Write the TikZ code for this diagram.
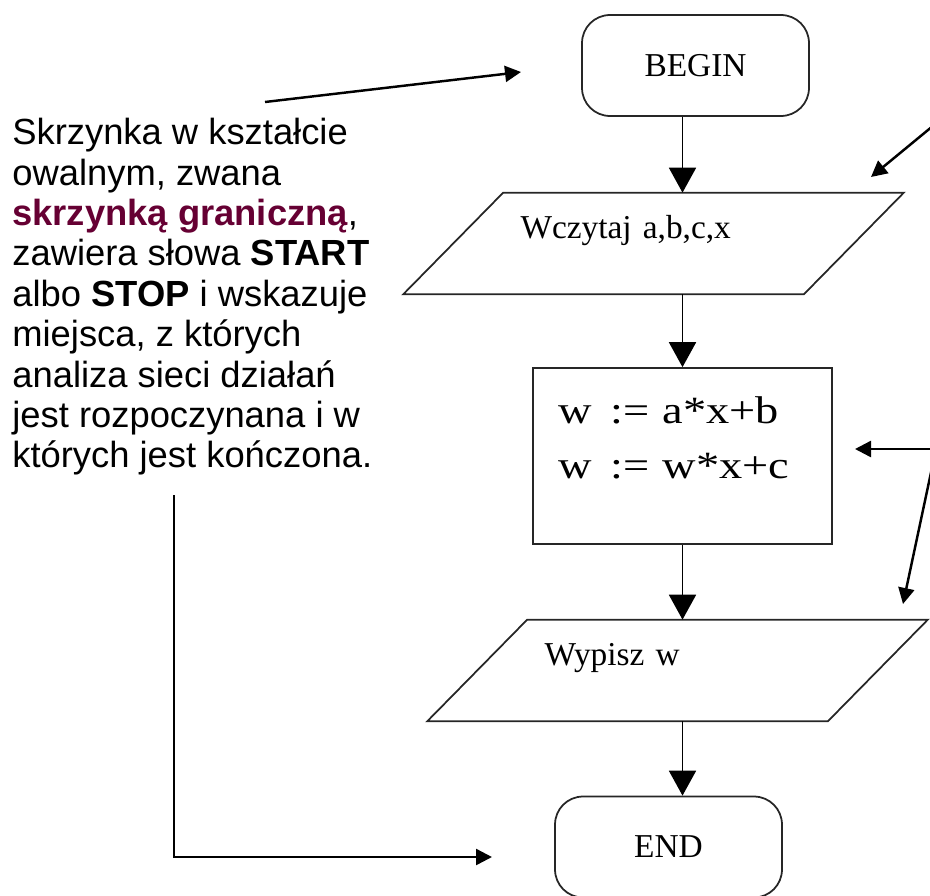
\documentclass[tikz,border=0pt]{standalone}
\usepackage{fontspec}
\setmainfont{Liberation Serif}
\newfontfamily\notefont{Liberation Sans}
\newfontfamily\calcfont[FakeStretch=1.2]{Liberation Serif}
\definecolor{borderwine}{RGB}{102, 0, 51}
\usetikzlibrary{arrows.meta, positioning}

\begin{document}
\begin{tikzpicture}[
        x=0.02cm, y=-0.02cm,
        term/.style={rectangle, draw=black!85, line width=1pt, rounded corners=0.56cm, minimum width=4.54cm, minimum height=2.02cm, font=\fontsize{19}{23}\selectfont},
        io/.style={rectangle, minimum width=8cm, minimum height=2.02cm, inner xsep=1.34cm, text width=5.32cm, align=left, text height=0.5cm, text depth=0.72cm, font=\fontsize{19}{23}\selectfont},
        iobox/.style={draw=black!85, line width=1pt},
        proc/.style={rectangle, draw=black!85, line width=1pt, minimum width=5.98cm, minimum height=3.52cm, inner xsep=0.5cm, text width=4.98cm, align=left, text depth=1.82cm, font=\calcfont\fontsize{22}{31.2}\selectfont},
        notetext/.style={inner sep=0pt, align=left, font=\notefont\fontsize{20.7}{23}\selectfont},
        flow/.style={-{Triangle[length=0.5cm, width=0.54cm]}, line width=1.1pt},
        note/.style={-{Triangle[length=0.32cm, width=0.32cm]}, line width=1.4pt}
    ]
        \useasboundingbox (0,0) rectangle (930,896);
        \clip (0,0) rectangle (930,896);

        % Flowchart
        \node[term] (begin) at (695.5,65.5) {BEGIN};
        \node[io] (read) at (653.5,243.5) {Wczytaj a,b,c,x};
        \node[proc] (calc) at (682.5,456) {w\enspace:= a*x+b\\w\enspace:= w*x+c};
        \node[io] (write) at (677.5,670.5) {Wypisz w};
        \node[term] (stop) at (668.5,847) {END};

        \draw[iobox] ([xshift=-1cm]read.south west) -- ([xshift=1cm]read.north west) -- ([xshift=1cm]read.north east) -- ([xshift=-1cm]read.south east) -- cycle;
        \draw[iobox] ([xshift=-1cm]write.south west) -- ([xshift=1cm]write.north west) -- ([xshift=1cm]write.north east) -- ([xshift=-1cm]write.south east) -- cycle;

        % Connectors
        \draw[flow] (begin.south -| calc.north) -- (read.north -| calc.north);
        \draw[flow] (read.south -| calc.north) -- (calc.north);
        \draw[flow] (calc.south) -- (write.north -| calc.south);
        \draw[flow] (write.south -| calc.south) -- (stop.north -| calc.south);

        % Annotation
        \node[notetext, anchor=north west] (expl) at (12,118) {Skrzynka w kształcie\\owalnym, zwana\\\textbf{\color{borderwine}skrzynką graniczną},\\zawiera słowa \textbf{START}\\albo \textbf{STOP} i wskazuje\\miejsca, z których\\analiza sieci działań\\jest rozpoczynana i w\\których jest kończona.};

        \coordinate (beginfrom) at (265,102);
        \coordinate (beginto) at (521,72);
        \coordinate (bracketfrom) at (174,495);
        \coordinate (stopto) at (492,857);
        \coordinate (readfrom) at (945,116);
        \coordinate (readto) at (871,177);
        \coordinate (rightfrom) at (936,449);
        \coordinate (calcto) at (855,449);
        \coordinate (writeto) at (903,604);

        \draw[note] (beginfrom) -- (beginto);
        \draw[note] (bracketfrom) |- (stopto);
        \draw[note] (readfrom) -- (readto);
        \draw[note] (rightfrom) -- (calcto);
        \draw[note] (rightfrom) -- (writeto);
    \end{tikzpicture}
\end{document}
